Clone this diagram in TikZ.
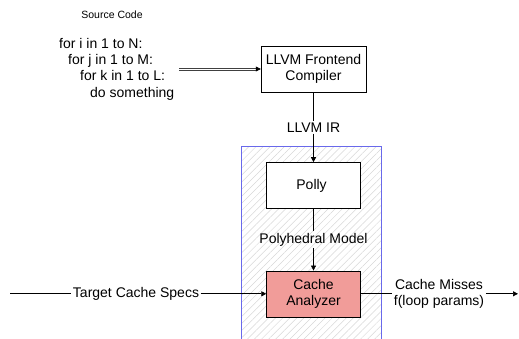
\documentclass[tikz,border=0pt]{standalone}
\usepackage{fontspec}
\setsansfont{Liberation Sans}
\usetikzlibrary{
  positioning,
  calc,
  arrows.meta,
  patterns.meta}
\definecolor{analyzercolor}{RGB}{241,156,153}
\definecolor{regioncolor}{RGB}{105,105,235}
\definecolor{hatchcolor}{RGB}{215,215,215}
\tikzset{
  %% stage : a compiler stage
  stage/.style={
    rectangle,
    draw=black,
    fill=white,
    minimum width=94pt,
    minimum height=46pt,
    align=center,
    font=\fontsize{14}{16.4}\selectfont
  },
  %% analyzer : the cache analyzer
  analyzer/.style={
    stage,
    fill=analyzercolor
  },
  %% flowlabel : text on a connection
  flowlabel/.style={
    inner sep=1.5pt,
    align=center,
    font=\fontsize{14}{16.4}\selectfont
  },
  %% codetext : the source loops
  codetext/.style={
    inner sep=0pt,
    align=left,
    font=\fontsize{14}{16.4}\selectfont
  },
  %% conn : an arrow
  conn/.style={black, line width=0.7pt, -{Triangle[length=5pt,width=5pt]}},
  %% plain : a line without tip
  plain/.style={black, line width=0.7pt},
  %% rail : one rail of the double arrow
  rail/.style={black!75, line width=0.6pt},
  %% region : hatched area round polly
  region/.style={pattern={Lines[angle=45,distance=5pt,line width=0.5pt]},
    pattern color=hatchcolor}
}

\begin{document}
\begin{tikzpicture}
  [x=1pt,
  y=-1pt]
  \sffamily
  \useasboundingbox (0,0) rectangle (519,339);

  %% Region round polly and the analyzer
  \fill [region] (241,147) rectangle (381,339);
  \draw [regioncolor, line width=1pt] (241,339) -- (241,147) -- (381,147) -- (381,339);

  %% Source
  \node (title) [font=\fontsize{10.5}{12}\selectfont] at (112,15) {Source Code};

  \node (code) [codetext, anchor=west] at (59,69) {%
    for i in 1 to N:\\
    \hspace*{9pt}for j in 1 to M:\\
    \hspace*{21pt}for k in 1 to L:\\
    \hspace*{31pt}do something
  };

  %% Stages
  \node (frontend) [stage, minimum width=105pt] at (313.5,69) {%
    LLVM Frontend\\Compiler
  };

  \node (polly) [stage, below=70pt of frontend]{%
    Polly
  };

  \node (cache) [analyzer, below=62pt of polly]{%
    Cache\\Analyzer
  };

  %% Labels
  \node (ir) [flowlabel] at ($(frontend.south)!0.5!(polly.north)$) {LLVM IR};
  \node (model) [flowlabel] at ($(polly.south)!0.5!(cache.north)$) {Polyhedral Model};

  \coordinate (specsin) at (10,0 |- cache.west);
  \node (specs) [flowlabel] at (136,0 |- cache.west) {Target Cache Specs};

  \node (misses) [flowlabel] at (439,0 |- cache.east) {Cache Misses\\f(loop params)};
  \coordinate (missesout) at (518,0 |- cache.east);

  %% Connections
  \coordinate (codeout) at ($(code.east)+(5pt,0)$);
  \draw [rail] ([yshift=-1.1pt]codeout) -- ([yshift=-1.1pt,xshift=-4pt]frontend.west);
  \draw [rail] ([yshift=1.1pt]codeout) -- ([yshift=1.1pt,xshift=-4pt]frontend.west);
  \draw [conn] ([xshift=-5pt]frontend.west) -- (frontend.west);
  \draw [plain] (frontend) -- (ir);
  \draw [conn] (ir) -- (polly);
  \draw [plain] (polly) -- (model);
  \draw [conn] (model) -- (cache);
  \draw [plain] (specsin) -- (specs);
  \draw [conn] (specs) -- (cache);
  \draw [plain] (cache) -- (misses);
  \draw [conn] (misses) -- (missesout);

\end{tikzpicture}
\end{document}
